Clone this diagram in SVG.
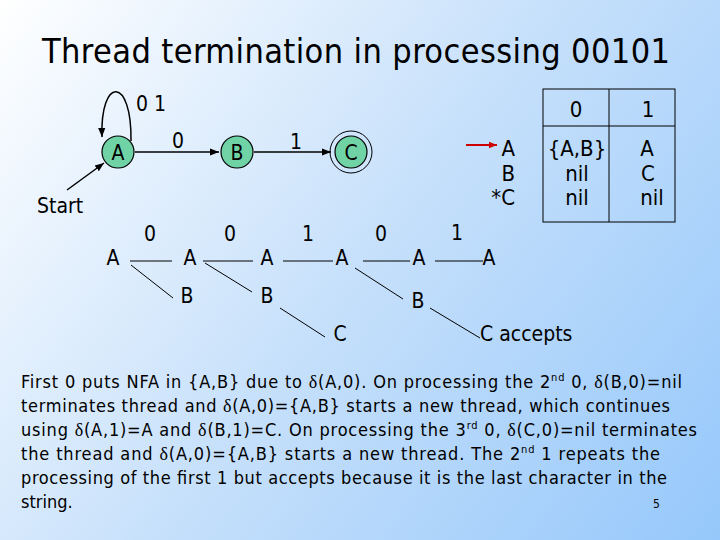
<svg xmlns="http://www.w3.org/2000/svg" width="720" height="540" viewBox="0 0 720 540">
<defs>
<linearGradient id="bg" gradientUnits="userSpaceOnUse" x1="0" y1="0" x2="720" y2="540">
<stop offset="0" stop-color="#ffffff"/>
<stop offset="0.5" stop-color="#c6e0fb"/>
<stop offset="1" stop-color="#96c8fb"/>
</linearGradient>
<marker id="ah" viewBox="0 0 10 10" refX="10" refY="5" markerWidth="9" markerHeight="9" markerUnits="userSpaceOnUse" orient="auto">
<path d="M0,1 L10,5 L0,9 z" fill="#000"/>
</marker>
<marker id="ahr" viewBox="0 0 10 10" refX="10" refY="5" markerWidth="8" markerHeight="8" markerUnits="userSpaceOnUse" orient="auto">
<path d="M0,1 L10,5 L0,9 z" fill="#cc0000"/>
</marker>
</defs>
<style>
text{font-family:"DejaVu Sans Condensed","Liberation Sans",sans-serif;fill:#000}
.t{font-size:21px}
.tb{font-size:22px}
.p{font-size:18px}
.m{text-anchor:middle}
.e{text-anchor:end}
.st{fill:#6fd3a6;stroke:#000;stroke-width:1.2}
.ed{fill:none;stroke:#000;stroke-width:1.5;marker-end:url(#ah)}
.tl{stroke:#000;stroke-width:1;fill:none}
.d{font-family:"Liberation Serif",serif}
</style>
<rect width="720" height="540" fill="url(#bg)"/>
<text x="42" y="62.5" font-size="34" textLength="628">Thread termination in processing 00101</text>

<g id="connectors">
<path class="ed" d="M131,141 C132,76 100,76 102,137"/>
<line class="ed" x1="67" y1="190" x2="104" y2="163"/>
<line class="ed" x1="135" y1="152" x2="219" y2="152"/>
<line class="ed" x1="254" y1="152" x2="331" y2="152"/>
<text class="t m" x="151" y="111">0 1</text>
<text class="t m" x="178" y="148">0</text>
<text class="t m" x="296" y="149">1</text>
</g>
<g id="start"><text class="t" x="37" y="213">Start</text></g>
<g id="nodeA"><circle class="st" cx="118" cy="152" r="16"/><text class="t m" x="118" y="159.5">A</text></g>
<g id="nodeB"><circle class="st" cx="237" cy="152" r="16"/><text class="t m" x="237" y="159.5">B</text></g>
<g id="nodeC"><circle cx="351" cy="152" r="21" fill="none" stroke="#000" stroke-width="1"/><circle class="st" cx="351" cy="152" r="16"/><text class="t m" x="351" y="159.5">C</text></g>

<g id="table">
<rect x="543" y="89" width="132" height="133" fill="none" stroke="#000" stroke-width="1"/>
<line x1="609" y1="89" x2="609" y2="222" stroke="#000" stroke-width="1"/>
<line x1="543" y1="126" x2="675" y2="126" stroke="#000" stroke-width="1"/>
<text class="tb m" x="576" y="117">0</text>
<text class="tb m" x="648" y="117">1</text>
<line x1="466" y1="145" x2="497" y2="145" stroke="#cc0000" stroke-width="2" marker-end="url(#ahr)"/>
<text class="tb e" x="515" y="156">A</text>
<text class="tb e" x="515" y="181">B</text>
<text class="tb e" x="515" y="205">*C</text>
<text class="tb m" x="577" y="156">{A,B}</text>
<text class="tb m" x="577" y="181">nil</text>
<text class="tb m" x="577" y="205">nil</text>
<text class="tb m" x="647" y="156">A</text>
<text class="tb m" x="648" y="181">C</text>
<text class="tb m" x="652" y="205">nil</text>
</g>

<g id="tree">
<g class="tl">
<line x1="130" y1="261" x2="172" y2="261"/>
<line x1="131" y1="265" x2="173" y2="298"/>
<line x1="203" y1="261" x2="253" y2="261"/>
<line x1="205" y1="263" x2="252" y2="292"/>
<line x1="283" y1="261" x2="333" y2="261"/>
<line x1="280" y1="308" x2="325" y2="337"/>
<line x1="363" y1="261" x2="410" y2="261"/>
<line x1="355" y1="268" x2="403" y2="299"/>
<line x1="435" y1="261" x2="483" y2="261"/>
<line x1="430" y1="308" x2="480" y2="338"/>
</g>
<text class="t m" x="113" y="265">A</text>
<text class="t m" x="150" y="241">0</text>
<text class="t m" x="190" y="265">A</text>
<text class="t m" x="187" y="303">B</text>
<text class="t m" x="230" y="241">0</text>
<text class="t m" x="267" y="265">A</text>
<text class="t m" x="267" y="303">B</text>
<text class="t m" x="308" y="241">1</text>
<text class="t m" x="342" y="265">A</text>
<text class="t m" x="340" y="341">C</text>
<text class="t m" x="381" y="241">0</text>
<text class="t m" x="419" y="265">A</text>
<text class="t m" x="418" y="308">B</text>
<text class="t m" x="457" y="240">1</text>
<text class="t m" x="489" y="265">A</text>
<text class="t" x="480" y="341">C accepts</text>
</g>

<g id="paragraph">
<text class="p" x="21" y="388" textLength="661">First 0 puts NFA in {A,B} due to <tspan class="d">δ</tspan>(A,0). On processing the 2<tspan font-size="11" dy="-7">nd</tspan><tspan dy="7"> 0, </tspan><tspan class="d">δ</tspan>(B,0)=nil</text>
<text class="p" x="21" y="412" textLength="649">terminates thread and <tspan class="d">δ</tspan>(A,0)={A,B} starts a new thread, which continues</text>
<text class="p" x="21" y="436" textLength="676">using <tspan class="d">δ</tspan>(A,1)=A and <tspan class="d">δ</tspan>(B,1)=C. On processing the 3<tspan font-size="11" dy="-7">rd</tspan><tspan dy="7"> 0, </tspan><tspan class="d">δ</tspan>(C,0)=nil terminates</text>
<text class="p" x="21" y="460" textLength="639">the thread and <tspan class="d">δ</tspan>(A,0)={A,B} starts a new thread. The 2<tspan font-size="11" dy="-7">nd</tspan><tspan dy="7">  1 repeats the</tspan></text>
<text class="p" x="21" y="484" textLength="646">processing of the first 1 but accepts because it is the last character in the</text>
<text class="p" x="21" y="508">string.</text>
<text x="653" y="508" font-size="12">5</text>
</g>
</svg>
